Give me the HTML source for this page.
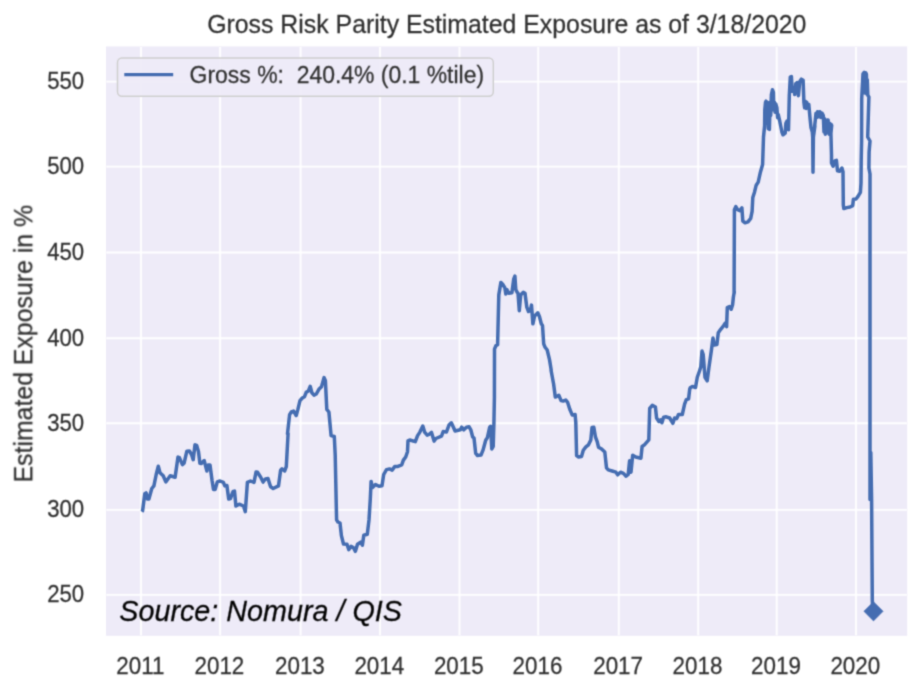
<!DOCTYPE html>
<html><head><meta charset="utf-8"><title>Gross Risk Parity Estimated Exposure</title>
<style>
html,body{margin:0;padding:0;background:#fff;}
body{width:916px;height:682px;overflow:hidden;}
svg{display:block;font-family:"Liberation Sans",sans-serif;}
</style></head><body>
<svg width="916" height="682" viewBox="0 0 916 682">
<defs>
<filter id="bt" filterUnits="userSpaceOnUse" x="0" y="0" width="916" height="682" color-interpolation-filters="sRGB"><feConvolveMatrix order="3" kernelMatrix="0.04387 0.12171 0.04387 0.12171 0.33767 0.12171 0.04387 0.12171 0.04387" divisor="1" edgeMode="duplicate" preserveAlpha="false"/></filter>
<filter id="bg" filterUnits="userSpaceOnUse" x="0" y="0" width="916" height="682" color-interpolation-filters="sRGB"><feConvolveMatrix order="3" kernelMatrix="0.02768 0.11101 0.02768 0.11101 0.44521 0.11101 0.02768 0.11101 0.02768" divisor="1" edgeMode="duplicate" preserveAlpha="false"/></filter>
<filter id="bgr" filterUnits="userSpaceOnUse" x="0" y="0" width="916" height="682" color-interpolation-filters="sRGB"><feConvolveMatrix order="3" kernelMatrix="0.05090 0.12381 0.05090 0.12381 0.30116 0.12381 0.05090 0.12381 0.05090" divisor="1" edgeMode="duplicate" preserveAlpha="false"/></filter>
<clipPath id="cp"><rect x="106.0" y="46.4" width="801.2" height="589.4"/></clipPath>
</defs>
<rect x="0" y="0" width="916" height="682" fill="#ffffff"/>
<g filter="url(#bg)"><rect x="106.0" y="46.4" width="801.2" height="589.4" fill="#eeebf8"/></g>
<g clip-path="url(#cp)"><g filter="url(#bgr)" stroke="#ffffff" stroke-width="1.9" fill="none"><line x1="141.0" y1="46.4" x2="141.0" y2="635.8"/><line x1="220.1" y1="46.4" x2="220.1" y2="635.8"/><line x1="300.6" y1="46.4" x2="300.6" y2="635.8"/><line x1="380.0" y1="46.4" x2="380.0" y2="635.8"/><line x1="459.5" y1="46.4" x2="459.5" y2="635.8"/><line x1="538.2" y1="46.4" x2="538.2" y2="635.8"/><line x1="618.8" y1="46.4" x2="618.8" y2="635.8"/><line x1="698.2" y1="46.4" x2="698.2" y2="635.8"/><line x1="776.7" y1="46.4" x2="776.7" y2="635.8"/><line x1="856.0" y1="46.4" x2="856.0" y2="635.8"/><line x1="106.0" y1="81.6" x2="907.2" y2="81.6"/><line x1="106.0" y1="166.6" x2="907.2" y2="166.6"/><line x1="106.0" y1="252.5" x2="907.2" y2="252.5"/><line x1="106.0" y1="338.2" x2="907.2" y2="338.2"/><line x1="106.0" y1="423.3" x2="907.2" y2="423.3"/><line x1="106.0" y1="509.9" x2="907.2" y2="509.9"/><line x1="106.0" y1="594.9" x2="907.2" y2="594.9"/></g></g>
<g filter="url(#bg)">
<path d="M141.9,511.7 L142.6,510.7 L144.8,493.8 L146.1,492.9 L147.5,499.0 L148.9,499.0 L151.8,488.5 L153.9,485.9 L156.2,474.5 L158.3,466.3 L160.0,472.8 L163.2,475.8 L165.8,481.9 L170.2,475.8 L175.1,477.2 L178.0,457.1 L179.4,457.6 L182.4,464.6 L184.1,463.2 L186.8,451.3 L189.4,451.0 L191.5,454.5 L193.2,459.7 L195.0,444.8 L196.7,445.4 L198.5,451.8 L199.9,463.2 L201.3,463.5 L204.2,460.6 L206.9,471.0 L208.3,464.9 L210.0,464.9 L212.1,480.7 L213.5,489.4 L215.2,489.4 L217.3,481.9 L220.0,481.0 L223.4,482.4 L224.8,485.9 L226.9,485.5 L228.7,499.0 L230.4,498.5 L233.1,491.5 L234.5,491.1 L235.9,506.0 L239.2,504.2 L243.5,506.0 L245.3,511.7 L247.4,482.4 L250.5,481.0 L254.0,482.4 L256.1,471.9 L257.5,472.3 L260.7,477.2 L263.1,482.1 L265.4,478.9 L268.0,478.6 L270.6,486.8 L273.2,488.5 L278.5,485.9 L280.6,470.2 L282.0,468.8 L284.6,471.0 L286.3,466.7 L288.1,433.5 L287.5,433.8 L289.6,414.6 L291.3,412.0 L293.6,411.1 L296.2,415.5 L297.9,409.4 L300.0,400.7 L302.3,398.0 L304.4,396.8 L306.2,392.3 L308.4,391.0 L310.2,386.3 L311.9,392.8 L314.0,395.1 L316.3,394.0 L318.9,389.3 L321.5,386.7 L324.1,377.6 L325.4,380.6 L326.8,409.4 L328.9,412.0 L331.1,435.6 L334.3,436.5 L335.2,454.8 L336.2,502.4 L336.6,519.9 L337.9,522.0 L340.0,523.0 L341.4,535.6 L343.5,544.0 L347.0,544.3 L348.8,549.6 L351.0,546.4 L353.3,547.5 L355.4,551.3 L357.5,544.3 L360.7,542.2 L362.4,545.2 L363.8,535.2 L367.3,534.2 L369.0,519.9 L370.3,498.9 L371.1,481.4 L372.5,487.6 L375.5,484.6 L379.0,486.3 L382.0,485.8 L383.7,474.5 L386.5,469.6 L389.5,468.9 L392.1,470.1 L394.7,466.6 L397.3,466.6 L401.7,464.8 L403.4,460.1 L405.7,457.0 L407.5,451.7 L408.0,440.8 L409.7,440.0 L415.3,441.7 L417.6,435.6 L419.9,432.1 L422.8,426.0 L424.6,432.1 L427.2,435.2 L428.9,434.5 L431.5,432.4 L434.1,441.1 L435.9,438.5 L441.5,436.2 L443.2,431.5 L446.4,432.1 L449.0,425.1 L451.3,422.8 L453.4,427.2 L455.1,431.0 L460.3,429.8 L461.7,427.2 L463.8,429.8 L466.5,427.2 L469.1,426.8 L470.8,429.8 L472.6,436.8 L474.0,438.0 L475.7,453.4 L477.5,455.5 L481.0,455.1 L483.1,449.9 L485.7,440.3 L487.4,437.6 L489.7,427.2 L490.6,426.3 L491.8,449.0 L493.2,446.4 L493.9,423.7 L494.4,397.5 L494.5,349.1 L495.9,345.6 L497.6,344.7 L498.8,294.9 L500.9,282.4 L502.8,284.5 L504.9,287.9 L505.8,294.1 L507.0,289.7 L508.8,293.2 L511.9,292.8 L513.7,279.2 L514.9,276.1 L515.8,289.7 L517.2,292.3 L518.0,293.2 L519.3,310.7 L520.7,294.9 L523.3,292.3 L525.0,293.2 L526.8,307.2 L528.5,311.5 L530.3,310.7 L531.5,305.1 L532.9,323.8 L534.6,315.9 L537.8,312.8 L539.5,316.8 L541.3,323.8 L542.5,325.5 L543.7,343.8 L545.1,347.3 L547.2,350.0 L549.5,359.6 L551.2,370.0 L551.0,370.0 L553.6,384.0 L555.3,397.1 L557.1,396.2 L558.8,395.3 L561.1,400.6 L563.2,401.1 L565.8,400.0 L567.6,402.3 L569.8,409.3 L572.3,415.1 L575.1,414.5 L575.8,422.4 L576.6,455.6 L578.6,457.0 L581.5,456.5 L583.3,450.3 L585.9,446.9 L588.5,444.8 L590.8,439.9 L592.0,427.6 L593.8,427.3 L595.5,437.2 L597.2,441.6 L598.5,447.2 L601.6,449.0 L604.8,452.1 L606.5,467.8 L608.3,469.9 L612.1,471.0 L615.9,472.2 L617.7,474.8 L620.5,472.2 L623.4,473.4 L626.1,476.2 L628.2,474.5 L629.6,460.8 L631.0,472.2 L632.7,455.2 L635.7,457.0 L640.9,458.2 L642.1,446.5 L644.4,444.8 L648.8,439.9 L649.7,408.4 L652.3,405.3 L655.4,407.0 L656.6,418.0 L658.9,421.5 L660.7,419.8 L661.9,422.8 L663.6,417.2 L666.2,416.8 L669.7,418.0 L672.9,423.3 L674.6,418.0 L676.7,418.6 L678.5,414.5 L682.3,414.5 L684.6,404.1 L686.3,399.7 L688.6,398.8 L689.7,389.2 L690.3,387.8 L692.4,386.4 L695.5,387.5 L697.3,377.3 L699.4,371.2 L700.8,366.9 L702.0,351.1 L703.2,354.6 L705.0,377.3 L707.2,380.8 L709.0,366.9 L711.3,351.1 L713.0,338.0 L714.2,345.0 L716.9,344.5 L718.3,332.8 L720.7,329.3 L723.5,325.8 L725.2,323.2 L726.6,326.7 L727.3,307.5 L729.4,306.6 L731.2,309.2 L732.6,304.8 L733.4,297.0 L734.3,291.7 L734.1,293.5 L734.4,209.7 L735.8,206.6 L737.6,209.7 L739.8,210.6 L741.9,207.9 L742.8,221.0 L745.1,222.8 L748.0,221.9 L750.7,218.4 L752.1,211.4 L752.8,197.5 L754.5,192.2 L756.2,185.2 L758.2,182.1 L760.4,172.2 L762.6,164.5 L763.5,137.0 L764.6,126.0 L764.8,110.0 L765.5,102.3 L766.1,101.2 L766.7,123.2 L767.2,102.3 L767.8,102.9 L768.3,128.7 L769.4,129.3 L770.1,102.3 L770.7,115.5 L771.4,94.6 L772.5,89.7 L773.4,92.4 L773.8,110.0 L774.5,102.3 L775.1,112.2 L775.8,104.0 L776.9,107.8 L777.6,117.7 L778.2,114.4 L779.7,121.0 L781.9,132.0 L783.0,134.8 L785.2,133.1 L785.9,123.2 L787.0,121.0 L788.5,129.8 L789.3,95.7 L790.3,77.0 L791.4,76.5 L792.3,91.3 L794.0,88.0 L794.7,94.6 L795.8,83.6 L797.3,82.5 L798.4,95.7 L799.8,81.4 L801.3,79.2 L803.1,80.3 L803.9,102.3 L804.6,107.8 L805.3,101.2 L806.2,108.4 L806.8,102.3 L807.9,107.6 L808.8,104.5 L810.1,118.8 L811.0,127.6 L812.3,132.0 L812.7,137.0 L813.0,172.2 L813.4,137.0 L814.9,126.0 L814.5,127.6 L816.0,113.3 L816.7,117.5 L817.6,111.7 L818.7,116.8 L819.8,111.7 L820.9,117.5 L822.0,113.1 L823.3,115.5 L824.0,132.0 L824.6,118.8 L825.3,134.2 L826.0,120.5 L826.6,132.6 L827.3,119.9 L828.1,119.9 L828.6,133.1 L829.2,134.2 L829.7,123.2 L830.4,133.3 L831.0,124.3 L831.7,125.4 L830.9,133.3 L831.5,155.3 L831.5,163.0 L833.1,166.3 L834.8,160.8 L836.4,160.3 L837.5,170.7 L839.7,171.3 L841.9,168.0 L843.0,171.8 L843.3,205.0 L843.8,208.6 L846.8,207.6 L850.1,207.0 L852.7,205.6 L853.4,199.2 L856.0,199.0 L858.0,196.4 L860.4,192.4 L861.0,183.0 L861.2,160.0 L861.6,141.0 L861.7,98.5 L863.0,73.8 L864.2,72.3 L864.9,93.0 L865.6,72.7 L866.4,74.1 L866.9,94.1 L867.3,79.8 L867.8,95.2 L868.9,96.9 L867.7,137 L870.0,141 L869.1,152 L868.9,168 L870.0,174 L870.0,499.5 L870.8,452.5 L871.6,500 L872.3,600 L872.8,611.3" fill="none" stroke="#456db1" stroke-width="3.5" stroke-linejoin="round" stroke-linecap="butt"/>
<path d="M873.5,601.7 L883.1,611.3 L873.5,620.9 L863.9,611.3 Z" fill="#456db1" stroke="#456db1" stroke-width="0.6" stroke-linejoin="round"/>
<rect x="117.5" y="57.9" width="375.8" height="38.4" rx="4.5" ry="4.5" fill="#eeebf8" fill-opacity="0.93" stroke="#cfcfcf" stroke-width="1.5"/>
<line x1="124.3" y1="74.6" x2="173.2" y2="74.6" stroke="#456db1" stroke-width="3.3"/>
</g>
<g filter="url(#bt)">
<text transform="translate(189.60,83.08) scale(1,1.07)" font-size="22.95" text-anchor="start" fill="#303030" stroke="#303030" stroke-width="0.25" xml:space="preserve" style="white-space:pre">Gross %:  240.4% (0.1 %tile)</text>
<text transform="translate(506.80,33.04) scale(1,1.05)" font-size="24.85" text-anchor="middle" fill="#303030" stroke="#303030" stroke-width="0.25" >Gross Risk Parity Estimated Exposure as of 3/18/2020</text>
<text transform="translate(32.4,343.7) rotate(-90) scale(1,1.05)" font-size="24.85" fill="#303030" stroke="#303030" stroke-width="0.25" text-anchor="middle">Estimated Exposure in %</text>
<text transform="translate(140.30,673.64) scale(1,1.08)" font-size="22.4" text-anchor="middle" fill="#303030" stroke="#303030" stroke-width="0.25" >2011</text><text transform="translate(219.40,673.64) scale(1,1.08)" font-size="22.4" text-anchor="middle" fill="#303030" stroke="#303030" stroke-width="0.25" >2012</text><text transform="translate(299.90,673.64) scale(1,1.08)" font-size="22.4" text-anchor="middle" fill="#303030" stroke="#303030" stroke-width="0.25" >2013</text><text transform="translate(379.30,673.64) scale(1,1.08)" font-size="22.4" text-anchor="middle" fill="#303030" stroke="#303030" stroke-width="0.25" >2014</text><text transform="translate(458.80,673.64) scale(1,1.08)" font-size="22.4" text-anchor="middle" fill="#303030" stroke="#303030" stroke-width="0.25" >2015</text><text transform="translate(537.50,673.64) scale(1,1.08)" font-size="22.4" text-anchor="middle" fill="#303030" stroke="#303030" stroke-width="0.25" >2016</text><text transform="translate(618.10,673.64) scale(1,1.08)" font-size="22.4" text-anchor="middle" fill="#303030" stroke="#303030" stroke-width="0.25" >2017</text><text transform="translate(697.50,673.64) scale(1,1.08)" font-size="22.4" text-anchor="middle" fill="#303030" stroke="#303030" stroke-width="0.25" >2018</text><text transform="translate(776.00,673.64) scale(1,1.08)" font-size="22.4" text-anchor="middle" fill="#303030" stroke="#303030" stroke-width="0.25" >2019</text><text transform="translate(855.30,673.64) scale(1,1.08)" font-size="22.4" text-anchor="middle" fill="#303030" stroke="#303030" stroke-width="0.25" >2020</text><text transform="translate(84.20,88.94) scale(1,1.08)" font-size="22.2" text-anchor="end" fill="#303030" stroke="#303030" stroke-width="0.25" >550</text><text transform="translate(84.20,173.94) scale(1,1.08)" font-size="22.2" text-anchor="end" fill="#303030" stroke="#303030" stroke-width="0.25" >500</text><text transform="translate(84.20,259.84) scale(1,1.08)" font-size="22.2" text-anchor="end" fill="#303030" stroke="#303030" stroke-width="0.25" >450</text><text transform="translate(84.20,345.54) scale(1,1.08)" font-size="22.2" text-anchor="end" fill="#303030" stroke="#303030" stroke-width="0.25" >400</text><text transform="translate(84.20,430.64) scale(1,1.08)" font-size="22.2" text-anchor="end" fill="#303030" stroke="#303030" stroke-width="0.25" >350</text><text transform="translate(84.20,517.24) scale(1,1.08)" font-size="22.2" text-anchor="end" fill="#303030" stroke="#303030" stroke-width="0.25" >300</text><text transform="translate(84.20,602.24) scale(1,1.08)" font-size="22.2" text-anchor="end" fill="#303030" stroke="#303030" stroke-width="0.25" >250</text>
<text transform="translate(119.30,621.21) scale(1,1.03)" font-size="28.75" text-anchor="start" fill="#000000" stroke="#000000" stroke-width="0.25" font-style="italic">Source: Nomura / QIS</text>
</g>
</svg>
</body></html>
